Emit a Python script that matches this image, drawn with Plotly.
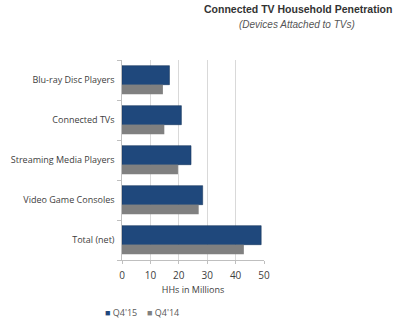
import plotly.graph_objects as go

categories = ["Total (net)", "Video Game Consoles", "Streaming Media Players", "Connected TVs", "Blu-ray Disc Players"]
q4_15 = [49.0, 28.4, 24.3, 20.9, 16.7]
q4_14 = [42.9, 27.0, 19.7, 14.9, 14.4]
x_ticks = [0, 10, 20, 30, 40, 50]
series_names = ["Q4'15", "Q4'14"]
series_colors = ["#1f487c", "#808080"]

W, H = 400, 325
L, R, T, B = 122, 136, 60, 65
plot_w = W - L - R
plot_h = H - T - B


def px_to_paper(px, py):
    return (px - L) / plot_w, (H - B - py) / plot_h


fig = go.Figure()
fig.add_trace(go.Bar(
    y=categories, x=q4_15, orientation="h", name=series_names[0],
    marker=dict(color=series_colors[0], line=dict(color="#17375e", width=0.6)),
    width=0.475, offset=-0.117, showlegend=False,
))
fig.add_trace(go.Bar(
    y=categories, x=q4_14, orientation="h", name=series_names[1],
    marker=dict(color=series_colors[1], line=dict(width=0)),
    width=0.24, offset=-0.358, showlegend=False,
))

font_fam = "Open Sans, Liberation Sans, sans-serif"
title_font = "Liberation Sans, Arial, sans-serif"

annotations = []
x, y = px_to_paper(298, 9)
annotations.append(dict(text="<b>Connected TV Household Penetration</b>", x=x, y=y,
                        font=dict(family=title_font, size=10.5, color="#333333")))
x, y = px_to_paper(297, 24)
annotations.append(dict(text="<i>(Devices Attached to TVs)</i>", x=x, y=y,
                        font=dict(family=title_font, size=10, color="#555555")))
# legend (as text items)
legend_x = [103, 145]
for name, col, lx in zip(series_names, series_colors, legend_x):
    x, y = px_to_paper(lx, 312)
    annotations.append(dict(text=f"<span style='color:{col}'>■</span> {name}", x=x, y=y,
                            xanchor="left",
                            font=dict(family=font_fam, size=9, color="#595959")))
for a in annotations:
    a.setdefault("xanchor", "center")
    a.update(xref="paper", yref="paper", yanchor="middle", showarrow=False)

fig.update_layout(
    width=W, height=H,
    margin=dict(l=L, r=R, t=T, b=B, autoexpand=False),
    paper_bgcolor="white", plot_bgcolor="white",
    barmode="overlay",
    showlegend=False,
    font=dict(family=font_fam, size=10, color="#404040"),
    annotations=annotations,
)

fig.update_xaxes(
    range=[0, 50], tickvals=x_ticks, showgrid=True, gridcolor="#d9d9d9", gridwidth=1,
    showline=True, linecolor="#bfbfbf", ticks="outside", ticklen=3, tickcolor="#bfbfbf",
    tickfont=dict(size=10, color="#404040"), ticklabelstandoff=3,
    title=dict(text="HHs in Millions", font=dict(size=9, color="#404040"), standoff=5),
    zeroline=False, fixedrange=True, automargin=False,
)
fig.update_yaxes(
    showline=True, linecolor="#bfbfbf", ticks="outside", ticklen=4, tickcolor="#bfbfbf",
    tickson="boundaries", showgrid=False, ticksuffix="  ",
    tickfont=dict(size=9, color="#404040"), fixedrange=True, automargin=False,
)

fig.write_html("out.html")
